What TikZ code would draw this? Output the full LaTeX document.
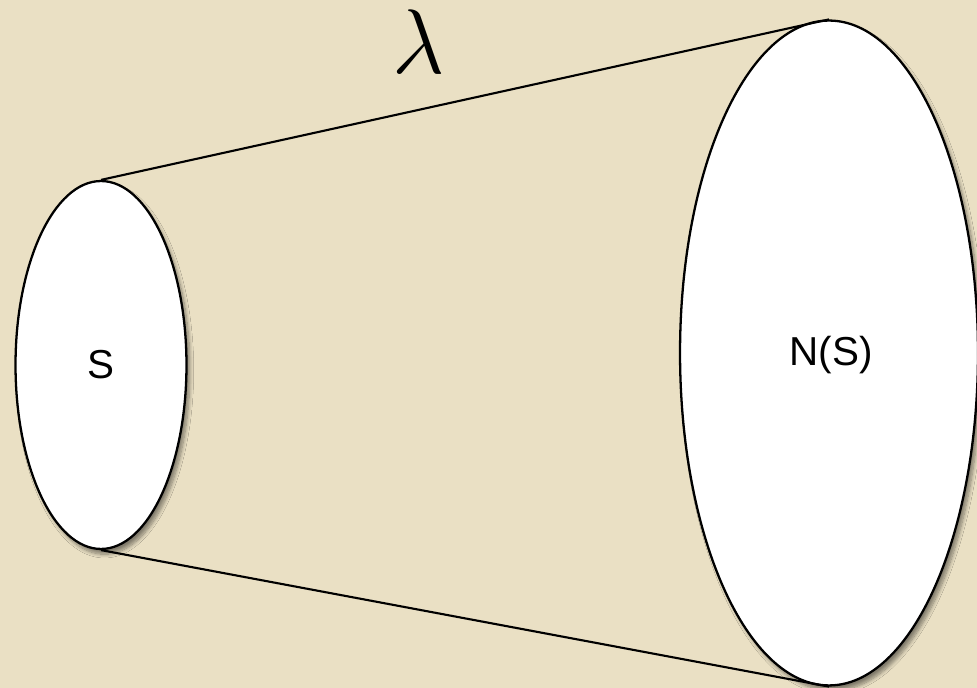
\documentclass[tikz,border=0pt]{standalone}
\usepackage{fontspec}
\setmainfont{Liberation Sans}
\usetikzlibrary{shapes.geometric, shadows.blur}

\definecolor{paper}{HTML}{EAE0C4}

\begin{document}
\begin{tikzpicture}[
    x=0.02cm, y=-0.02cm,
    setshape/.style={draw, ellipse, fill=white, line width=1.3pt, inner sep=0pt,
        blur shadow={shadow xshift=2pt, shadow yshift=-3pt, shadow blur steps=8, shadow opacity=45}},
    edge/.style={line width=1.2pt},
    lbl/.style={font=\fontsize{23}{26}\selectfont}
]
    % background
    \fill[paper] (0,0) rectangle (977,688);
    \useasboundingbox (0,0) rectangle (977,688);

    % the two sets
    \node[setshape, minimum width=3.42cm, minimum height=7.36cm] (set) at (101,365) {};
    \node[setshape, minimum width=5.96cm, minimum height=13.3cm] (nbhd) at (829,353) {};

    % connecting lines
    \draw[edge] (set.north) -- (nbhd.north);
    \draw[edge] (set.south) -- (nbhd.south);

    % labels
    \node[lbl] (slabel) at (set.center) {S};
    \node[lbl] (nlabel) at (831,355) {N(S)};
    \node[font=\Huge, scale=2.1] (lam) at (419,42) {$\lambda$};
\end{tikzpicture}
\end{document}
